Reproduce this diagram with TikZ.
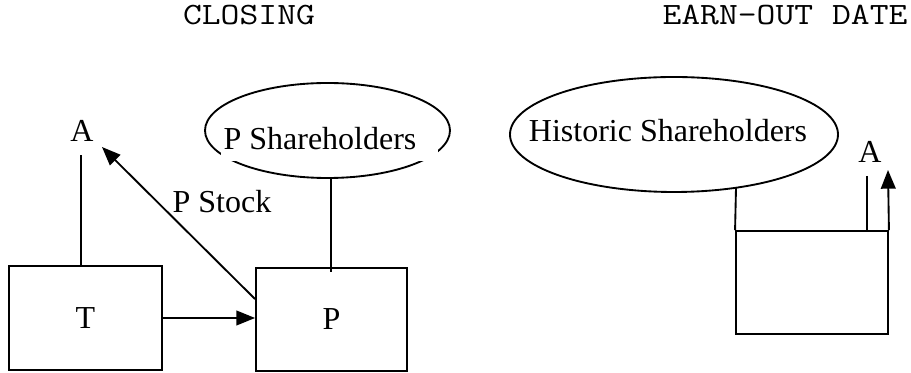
\documentclass[tikz,border=0pt]{standalone}
\usepackage{fontspec}
\setmainfont{Liberation Serif}
\newfontfamily\hdrfont[FakeStretch=1.18]{Latin Modern Mono}
\usetikzlibrary{arrows.meta,shapes.geometric}
\begin{document}
\begin{tikzpicture}[x=0.75pt,y=-0.75pt,
  line width=1.4pt,
  lbl/.style={font=\fontsize{24}{28}\selectfont, inner sep=0pt, anchor=base},
  hdr/.style={font=\hdrfont\fontsize{23.25}{28}\selectfont, inner sep=0pt, anchor=base},
  entity/.style={draw, rectangle, inner sep=0pt, font=\fontsize{24}{28}\selectfont},
  holders/.style={draw, ellipse, inner sep=0pt},
  arr/.style={-{Triangle[length=14pt,width=11pt]}}
]
\useasboundingbox (0,0) rectangle (911,373);

% column headings
\node[hdr] (hClosing) at (249,25) {CLOSING};
\node[hdr] (hEarnout) at (785,25) {EARN-OUT DATE};

% ---- closing ----
\node[entity, minimum width=114.75pt, minimum height=78pt] (T) at (85.5,318) {T};
\node[entity, minimum width=113.25pt, minimum height=77.25pt] (P) at (331.5,319.5) {P};
\node[holders, minimum width=183.75pt, minimum height=71.25pt] (psh) at (327.5,130.5) {};
% the label's white text box hides the lower part of the outline
\fill[white] (221,140) rectangle (438,161);
\node[lbl] (pshText) at (320,150) {P Shareholders};
\node[lbl] (aLeft) at (82,142) {A};
\node[lbl] (stock) at (222,213) {P Stock};

\coordinate (aTop) at (81,155);
\coordinate (stockTip) at (102,147);
\coordinate (pLink) at (331,272);

\draw (T.north -| aTop) -- (aTop);
\draw[arr] (T.east) -- (T.east -| P.west);
\draw[arr] ([yshift=-24pt]P.north west) -- (stockTip);
\draw (pLink) -- (pLink |- psh.south);

% ---- earn-out date ----
\node[entity, minimum width=114pt, minimum height=77.25pt] (R) at (812,282.5) {};
\node[holders, minimum width=246pt, minimum height=86.25pt] (hist) at (674,134.5) {};
\node[lbl] (histText) at (668,142) {Historic Shareholders};
\node[lbl] (aRight) at (870,163) {A};

\coordinate (histJoin) at (736,188);
\coordinate (tick) at (867,176);
\coordinate (rTip) at (888,170);

\draw (histJoin) -- (R.north west);
\draw (tick) -- (tick |- R.north);
\draw[arr] (R.north east) -- (rTip);

\end{tikzpicture}
\end{document}
